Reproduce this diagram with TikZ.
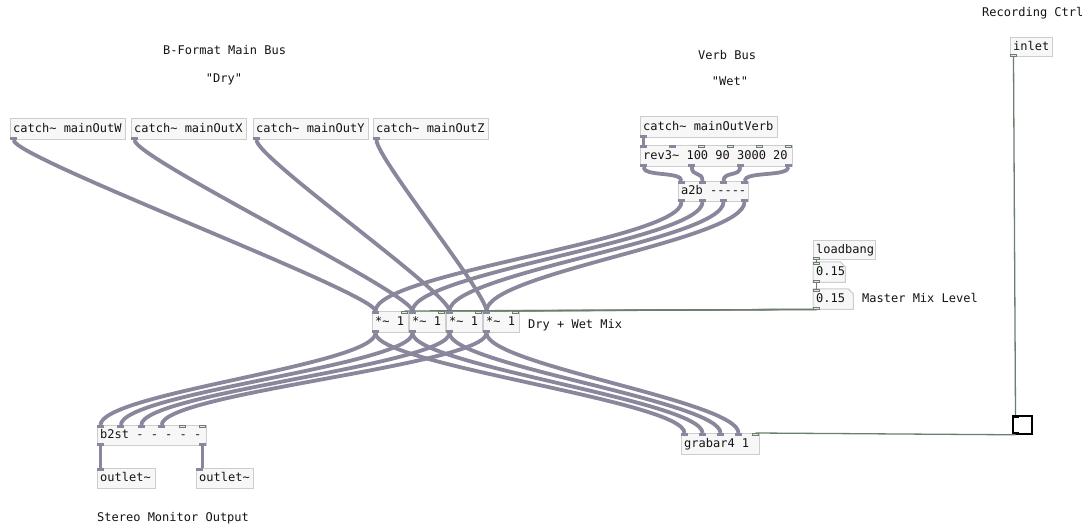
\documentclass[tikz,border=0pt]{standalone}
\usepackage{fontspec}
\setmonofont{DejaVu Sans Mono}
\usetikzlibrary{calc}
\definecolor{sigc}{HTML}{8A879C}
\definecolor{ctlc}{HTML}{6E7E6E}
\definecolor{boxd}{HTML}{CDCDCD}
\definecolor{boxf}{HTML}{F7F7F7}
\definecolor{txtc}{HTML}{141414}
\definecolor{portf}{HTML}{E2E9E2}
\tikzset{
 objbox/.style={draw=boxd, fill=boxf, line width=1pt, inner sep=0pt, anchor=north west},
 atombox/.style={draw=none, inner sep=0pt, anchor=north west},
 objtxt/.style={font=\ttfamily\fontsize{12}{14}\selectfont, text=txtc, inner sep=0pt, anchor=west, text height=8.8pt, text depth=2.6pt},
 comment/.style={font=\ttfamily\fontsize{12}{14}\selectfont, text=txtc, inner sep=0pt, text height=8.8pt, text depth=2.6pt},
 sig/.style={draw=sigc, line width=3.8pt},
 ctl/.style={draw=ctlc, line width=1.3pt},
 sigport/.style={fill=sigc},
 ctlport/.style={draw=ctlc, fill=portf, line width=0.7pt},
}
\newcommand{\tld}{\char`\~}
\newcommand{\pdobj}[6]{%
 \node[objbox, minimum width={(#4-#2)*1pt}, minimum height={(#5-#3)*1pt}] (#1) at (#2,#3) {};
 \node[objtxt] (#1t) at ($(#1.west)+(3,0)$) {#6};}
\newcommand{\pdatom}[6]{%
 \node[atombox, minimum width={(#4-#2)*1pt}, minimum height={(#5-#3)*1pt}] (#1) at (#2,#3) {};
 \filldraw[draw=boxd, fill=boxf, line width=1pt] (#1.north west) -- ($(#1.north east)+(-5,0)$) -- ($(#1.north east)+(0,5)$) -- (#1.south east) -- (#1.south west) -- cycle;
 \node[objtxt] (#1t) at ($(#1.west)+(3,0)$) {#6};}
\newcommand{\pdSin}[2]{\fill[sigport] ($(#1.north west)+(#2,0)$) rectangle ++(7,3);}
\newcommand{\pdSout}[2]{\fill[sigport] ($(#1.south west)+(#2,-3)$) rectangle ++(7,3);}
\newcommand{\pdCin}[2]{\draw[ctlport] ($(#1.north west)+(#2+0.5,0.5)$) rectangle ++(6,2);}
\newcommand{\pdCout}[2]{\draw[ctlport] ($(#1.south west)+(#2+0.5,-2.5)$) rectangle ++(6,2);}
\newcommand{\pdwire}[5]{\draw[sig] ($(#1.south west)+(#2+3.5,0)$) .. controls +(0,#5) and +(0,-#5) .. ($(#3.north west)+(#4+3.5,0)$);}
\newcommand{\pdcord}[4]{\draw[ctl] ($(#1.south west)+(#2+3.5,0)$) -- ($(#3.north west)+(#4+3.5,0)$);}
\begin{document}
\begin{tikzpicture}[x=1pt,y=-1pt]
\fill[white] (0,0) rectangle (1088,529);
\useasboundingbox (0,0) rectangle (1088,529);

% comments
\node[comment, anchor=west] (cBF) at (163,51) {B-Format Main Bus};
\node[comment] (cDry) at (224,79) {\char34 Dry\char34};
\node[comment, anchor=west] (cVB) at (698,56) {Verb Bus};
\node[comment] (cWet) at (730,82) {\char34 Wet\char34};
\node[comment, anchor=west] (cMix) at (528,325) {Dry + Wet Mix};
\node[comment, anchor=west] (cMML) at (862,299) {Master Mix Level};
\node[comment, anchor=west] (cSMO) at (97,518) {Stereo Monitor Output};
\node[comment, anchor=west] (cRC) at (982,13) {Recording Ctrl};

% objects
\pdobj{W}{10}{118}{125}{139}{catch\tld{} mainOutW}
\pdobj{X}{131}{118}{246}{139}{catch\tld{} mainOutX}
\pdobj{Y}{253}{118}{368}{139}{catch\tld{} mainOutY}
\pdobj{Z}{373}{118}{488}{139}{catch\tld{} mainOutZ}
\pdobj{V}{640}{116}{777}{137}{catch\tld{} mainOutVerb}
\pdobj{rev}{640}{145}{792}{166}{rev3\tld{} 100 90 3000 20}
\pdobj{a2b}{678}{181}{748}{201}{a2b -----}
\pdobj{mA}{372}{311}{408}{332}{*\tld{} 1}
\pdobj{mB}{409}{311}{445}{332}{*\tld{} 1}
\pdobj{mC}{446}{311}{482}{332}{*\tld{} 1}
\pdobj{mD}{483}{311}{519}{332}{*\tld{} 1}
\pdobj{lb}{813}{240}{875}{259}{loadbang}
\pdatom{nA}{813}{262}{845}{282}{0.15}
\pdatom{nB}{813}{289}{853}{309}{0.15}
\pdobj{b2st}{97}{425}{206}{445}{b2st - - - - -}
\pdobj{oA}{97}{468}{155}{488}{outlet\tld}
\pdobj{oB}{196}{468}{253}{488}{outlet\tld}
\pdobj{grab}{681}{433}{759}{454}{grabar4 1}
\pdobj{inl}{1010}{37}{1052}{56}{inlet}
\node[draw=black, fill=white, line width=1.8pt, inner sep=0pt, anchor=north west, minimum width=19pt, minimum height=18pt] (tog) at (1012,415) {};

% signal cables
\pdwire{W}{0}{mA}{0}{18}
\pdwire{X}{0}{mB}{0}{18}
\pdwire{Y}{0}{mC}{0}{18}
\pdwire{Z}{0}{mD}{0}{18}
\pdwire{V}{0}{rev}{0}{3}
\pdwire{rev}{0}{a2b}{0}{10}
\pdwire{rev}{48.3}{a2b}{21}{10}
\pdwire{rev}{96.7}{a2b}{42}{10}
\pdwire{rev}{145}{a2b}{63}{10}
\pdwire{a2b}{0}{mA}{0}{38}
\pdwire{a2b}{21}{mB}{0}{38}
\pdwire{a2b}{42}{mC}{0}{38}
\pdwire{a2b}{63}{mD}{0}{38}
\pdwire{mA}{0}{b2st}{0}{32}
\pdwire{mB}{0}{b2st}{20.4}{32}
\pdwire{mC}{0}{b2st}{40.8}{32}
\pdwire{mD}{0}{b2st}{61.2}{32}
\pdwire{mA}{0}{grab}{0}{32}
\pdwire{mB}{0}{grab}{18}{32}
\pdwire{mC}{0}{grab}{36}{32}
\pdwire{mD}{0}{grab}{54}{32}
\pdwire{b2st}{0}{oA}{0}{6}
\pdwire{b2st}{102}{oB}{3}{6}

% control cables
\pdcord{lb}{0}{nA}{0}
\pdcord{nA}{0}{nB}{0}
\pdcord{nB}{0}{mA}{29}
\pdcord{nB}{0}{mB}{29}
\pdcord{nB}{0}{mC}{29}
\pdcord{nB}{0}{mD}{29}
\pdcord{inl}{0}{tog}{0}
\draw[ctl] ($(tog.south west)+(3.5,0)$) -- ($(grab.north west)+(74.5,0)$);

% ports
\foreach \n in {W,X,Y,Z,V}{\pdSout{\n}{0}}
\pdSin{rev}{0}\pdSin{rev}{29}
\pdCin{rev}{58}\pdCin{rev}{87}\pdCin{rev}{116}\pdCin{rev}{145}
\pdSout{rev}{0}\pdSout{rev}{48.3}\pdSout{rev}{96.7}\pdSout{rev}{145}
\foreach \o in {0,21,42,63}{\pdSin{a2b}{\o}\pdSout{a2b}{\o}}
\foreach \n in {mA,mB,mC,mD}{\pdSin{\n}{0}\pdCin{\n}{29}\pdSout{\n}{0}}
\pdCout{lb}{0}
\pdCin{nA}{0}\pdCout{nA}{0}
\pdCin{nB}{0}\pdCout{nB}{0}
\foreach \o in {0,20.4,40.8,61.2}{\pdSin{b2st}{\o}}
\pdCin{b2st}{81.6}\pdCin{b2st}{102}
\pdSout{b2st}{0}\pdSout{b2st}{102}
\pdSin{oA}{0}\pdSin{oB}{0}
\foreach \o in {0,18,36,54}{\pdSin{grab}{\o}}
\pdCin{grab}{71}
\pdCout{inl}{0}
\fill[black] ($(tog.north west)+(1,1)$) rectangle ++(6,2);
\fill[black] ($(tog.south west)+(1,-3)$) rectangle ++(6,2);
\end{tikzpicture}
\end{document}
